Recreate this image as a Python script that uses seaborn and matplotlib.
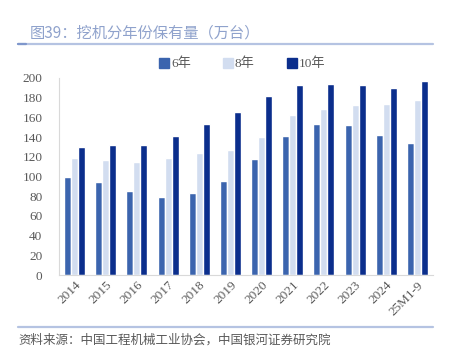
import pandas as pd
import numpy as np
import seaborn as sns
import matplotlib.pyplot as plt
from matplotlib.lines import Line2D

# --- 数据 ---
years = ["2014", "2015", "2016", "2017", "2018", "2019", "2020",
         "2021", "2022", "2023", "2024", "25M1-9"]
series_names = ["6年", "8年", "10年"]
y6 = [99.5, 94, 85, 79, 83.5, 95.5, 118, 141.5, 153, 152.5, 142.5, 134.5]
y8 = [119, 117, 114.5, 118.5, 123.5, 126.5, 140, 162, 169, 172.5, 174, 177.5]
y10 = [129.5, 131.5, 132, 141, 153, 165.5, 182, 192.5, 193.5, 192.5, 190, 197]
yticks = list(range(0, 201, 20))

colors = ["#3B64AE", "#D2DDF0", "#0B2E8C"]

df = pd.DataFrame({
    "year": years * 3,
    "series": np.repeat(series_names, len(years)),
    "value": y6 + y8 + y10,
})

sns.set_style("white")
plt.rcParams["font.family"] = ["Noto Sans CJK SC", "DejaVu Sans"]
num_font = ["Liberation Serif", "Noto Sans CJK SC"]
grey = "#595959"

W, H = 449, 351
fig = plt.figure(figsize=(W / 100, H / 100), dpi=100)
ax = fig.add_axes([59 / W, 1 - 275 / H, (433 - 59) / W, (275 - 78) / H])

sns.barplot(data=df, x="year", y="value", hue="series", order=years,
            hue_order=series_names, palette=colors, width=0.67,
            saturation=1, ax=ax, legend=False)

ax.set_ylim(0, 200)
ax.set_yticks(yticks)
ax.set_yticklabels([str(t) for t in yticks], family=num_font, fontsize=9.5, color=grey)
ax.set_xticks(range(len(years)))
ax.set_xticklabels(years, rotation=45, ha="right", rotation_mode="anchor",
                   family=num_font, fontsize=9.5, color=grey)
ax.set_xlim(-0.5, len(years) - 0.5)
ax.set_xlabel("")
ax.set_ylabel("")
for s in ["top", "right"]:
    ax.spines[s].set_visible(False)
for s in ["left", "bottom"]:
    ax.spines[s].set_color("#D9D9D9")
    ax.spines[s].set_linewidth(0.8)
ax.tick_params(axis="both", length=0, pad=3)
ax.tick_params(axis="y", pad=12)

# 图例
handles = [Line2D([], [], marker="s", linestyle="", markersize=7,
                  markerfacecolor=c, markeredgecolor=c) for c in colors]
fig.legend(handles, series_names, loc="center", ncol=3,
           bbox_to_anchor=(242 / W, 1 - 64 / H), frameon=False,
           handletextpad=0.05, columnspacing=2.4, handlelength=0.9,
           prop={"family": num_font, "size": 9.5}, labelcolor=grey)

# 标题和来源
fig.text(30 / W, 1 - 33 / H, "图39：挖机分年份保有量（万台）", fontsize=11,
         color="#8FA2CC", va="center", ha="left")
fig.add_artist(Line2D([18 / W, 433 / W], [1 - 43.5 / H] * 2, color="#B5C3E2", lw=1.6))
fig.add_artist(Line2D([18 / W, 26 / W], [1 - 43.5 / H] * 2, color="#7F97CC", lw=1.6))
fig.add_artist(Line2D([18 / W, 433 / W], [1 - 327 / H] * 2, color="#B5C3E2", lw=1.6))
fig.text(18 / W, 1 - 340 / H, "资料来源：中国工程机械工业协会，中国银河证券研究院",
         fontsize=9, color=grey, va="center", ha="left")

fig.savefig("out.png", dpi=100)
